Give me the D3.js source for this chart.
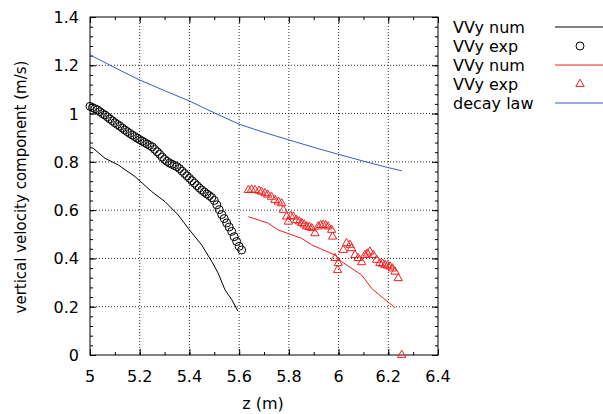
<!DOCTYPE html>
<html>
<head>
<meta charset="utf-8">
<script src="https://cdn.jsdelivr.net/npm/d3@7"></script>
<style>
  body { margin: 0; background: #fff; }
  text { font-family: "DejaVu Sans", sans-serif; }
</style>
</head>
<body>
<div id="chart"></div>
<script>
// numerical run 1 (black line)
var numZ1 = [5.0, 5.013, 5.06, 5.114, 5.181, 5.248, 5.302, 5.355, 5.395, 5.449, 5.49, 5.516, 5.543, 5.57, 5.595];
var numV1 = [0.86, 0.856, 0.815, 0.787, 0.739, 0.677, 0.635, 0.58, 0.525, 0.456, 0.387, 0.338, 0.27, 0.23, 0.182];

// experiment 1 (black circles)
var expZ1 = [5.00, 5.01, 5.02, 5.03, 5.04, 5.05, 5.06, 5.07, 5.08, 5.09, 5.10, 5.11, 5.12, 5.13, 5.14, 5.15,
  5.16, 5.17, 5.18, 5.19, 5.20, 5.21, 5.22, 5.23, 5.24, 5.25, 5.26, 5.27, 5.28, 5.29, 5.30, 5.31, 5.32,
  5.33, 5.34, 5.35, 5.36, 5.37, 5.38, 5.39, 5.40, 5.41, 5.42, 5.43, 5.44, 5.45, 5.46, 5.47, 5.48, 5.49,
  5.50, 5.51, 5.52, 5.53, 5.54, 5.55, 5.56, 5.57, 5.58, 5.59, 5.60, 5.61];
var expV1 = [1.03, 1.025, 1.02, 1.015, 1.008, 1.0, 0.994, 0.986, 0.978, 0.97, 0.962, 0.955, 0.948, 0.94, 0.932, 0.925,
  0.918, 0.911, 0.905, 0.898, 0.892, 0.886, 0.88, 0.874, 0.868, 0.862, 0.852, 0.842, 0.832, 0.82, 0.81, 0.802, 0.795,
  0.79, 0.785, 0.78, 0.772, 0.762, 0.752, 0.742, 0.732, 0.722, 0.712, 0.702, 0.692, 0.683, 0.675, 0.667, 0.66, 0.652,
  0.64, 0.622, 0.602, 0.582, 0.565, 0.547, 0.53, 0.512, 0.49, 0.47, 0.45, 0.435];

// numerical run 2 (red line)
var numZ2 = [5.637, 5.717, 5.757, 5.852, 5.892, 5.986, 6.012, 6.093, 6.133, 6.18, 6.227];
var numV2 = [0.573, 0.546, 0.518, 0.483, 0.456, 0.414, 0.387, 0.331, 0.276, 0.235, 0.196];

// experiment 2 (red triangles)
var expZ2 = [5.637, 5.65, 5.664, 5.68, 5.69, 5.704, 5.715, 5.73, 5.744, 5.758, 5.771, 5.778, 5.791, 5.798, 5.808,
  5.818, 5.831, 5.842, 5.852, 5.862, 5.872, 5.882, 5.892, 5.905, 5.918, 5.928, 5.938, 5.948, 5.958, 5.972, 5.976,
  5.986, 5.999, 5.996, 6.019, 6.032, 6.046, 6.052, 6.066, 6.079, 6.093, 6.106, 6.116, 6.126, 6.14, 6.153, 6.166,
  6.177, 6.187, 6.197, 6.207, 6.217, 6.227, 6.24, 6.254];
var expV2 = [0.683, 0.685, 0.683, 0.68, 0.676, 0.67, 0.664, 0.655, 0.642, 0.635, 0.628, 0.601, 0.573, 0.552, 0.575,
  0.573, 0.559, 0.553, 0.546, 0.54, 0.532, 0.53, 0.525, 0.504, 0.532, 0.538, 0.539, 0.537, 0.532, 0.518, 0.49,
  0.401, 0.38, 0.352, 0.435, 0.463, 0.456, 0.442, 0.414, 0.401, 0.384, 0.414, 0.42, 0.428, 0.414, 0.394, 0.38,
  0.378, 0.373, 0.37, 0.366, 0.358, 0.345, 0.318, 0.0];

// decay law (blue line)
var decayZ = [5.0, 5.1, 5.2, 5.3, 5.4, 5.5, 5.6, 5.7, 5.8, 5.9, 6.0, 6.1, 6.2, 6.254];
var decayV = [1.243, 1.19, 1.139, 1.095, 1.052, 1.003, 0.956, 0.922, 0.891, 0.86, 0.831, 0.803, 0.776, 0.763];

var xTicks = [5, 5.2, 5.4, 5.6, 5.8, 6, 6.2, 6.4];
var yTicks = [0, 0.2, 0.4, 0.6, 0.8, 1, 1.2, 1.4];
var legendLabels = ["VVy num", "VVy exp", "VVy num", "VVy exp", "decay law"];

var W = 603, H = 414;
var pL = 90, pR = 438, pT = 17, pB = 355;
var black = "#000", red = "#f02020", blue = "#3a5cc0";

var svg = d3.select("#chart").append("svg").attr("width", W).attr("height", H);

var x = d3.scaleLinear().domain([5, 6.4]).range([pL, pR]);
var y = d3.scaleLinear().domain([0, 1.4]).range([pB, pT]);

// grid
var grid = svg.append("g");
grid.selectAll("line.gx").data(xTicks.slice(1, -1)).enter().append("line")
  .attr("x1", d => x(d)).attr("x2", d => x(d)).attr("y1", pT).attr("y2", pB)
  .attr("stroke", "#333").attr("stroke-width", 1).attr("stroke-dasharray", "1,2");
grid.selectAll("line.gy").data(yTicks.slice(1, -1)).enter().append("line")
  .attr("y1", d => y(d)).attr("y2", d => y(d)).attr("x1", pL).attr("x2", pR)
  .attr("stroke", "#333").attr("stroke-width", 1).attr("stroke-dasharray", "1,2");

// axes with inward ticks on all four sides
var xMinor = d3.range(5, 6.41, 0.1);
var yMinor = d3.range(0, 1.401, 0.04);
function ticks(g, axis, vals, size) {
  g.call(axis.tickValues(vals).tickSize(size).tickFormat(""));
  g.select(".domain").remove();
}
ticks(svg.append("g").attr("transform", "translate(0," + pB + ")"), d3.axisTop(x), xMinor, 3);
ticks(svg.append("g").attr("transform", "translate(0," + pT + ")"), d3.axisBottom(x), xMinor, 3);
ticks(svg.append("g").attr("transform", "translate(" + pL + ",0)"), d3.axisRight(y), yMinor, 3);
ticks(svg.append("g").attr("transform", "translate(" + pR + ",0)"), d3.axisLeft(y), yMinor, 3);
ticks(svg.append("g").attr("transform", "translate(0," + pB + ")"), d3.axisTop(x), xTicks, 6);
ticks(svg.append("g").attr("transform", "translate(0," + pT + ")"), d3.axisBottom(x), xTicks, 6);
ticks(svg.append("g").attr("transform", "translate(" + pL + ",0)"), d3.axisRight(y), yTicks, 6);
ticks(svg.append("g").attr("transform", "translate(" + pR + ",0)"), d3.axisLeft(y), yTicks, 6);

svg.append("rect").attr("x", pL).attr("y", pT)
  .attr("width", pR - pL).attr("height", pB - pT)
  .attr("fill", "none").attr("stroke", black).attr("stroke-width", 1);

// tick labels
svg.append("g").selectAll("text").data(xTicks).enter().append("text")
  .attr("x", d => x(d)).attr("y", pB + 27)
  .attr("text-anchor", "middle").attr("font-size", 16)
  .text(d => d3.format("~g")(d));
svg.append("g").selectAll("text").data(yTicks).enter().append("text")
  .attr("x", pL - 11).attr("y", d => y(d) + 6)
  .attr("text-anchor", "end").attr("font-size", 16)
  .text(d => d3.format("~g")(d));

svg.append("text").attr("x", (pL + pR) / 2 - 1).attr("y", 409)
  .attr("text-anchor", "middle").attr("font-size", 16).text("z (m)");
svg.append("text").attr("transform", "translate(26," + ((pT + pB) / 2 + 1) + ")rotate(-90)")
  .attr("text-anchor", "middle").attr("font-size", 15).text("vertical velocity component (m/s)");

// series
var line = d3.line().x(d => x(d[0])).y(d => y(d[1]));
var plot = svg.append("g");

plot.append("path").datum(decayZ.map((z, i) => [z, decayV[i]]))
  .attr("d", line).attr("fill", "none").attr("stroke", blue).attr("stroke-width", 1);
plot.append("path").datum(numZ1.map((z, i) => [z, numV1[i]]))
  .attr("d", line).attr("fill", "none").attr("stroke", black).attr("stroke-width", 1);
plot.append("path").datum(numZ2.map((z, i) => [z, numV2[i]]))
  .attr("d", line).attr("fill", "none").attr("stroke", red).attr("stroke-width", 1);

plot.selectAll("circle.exp1").data(expZ1.map((z, i) => [z, expV1[i]])).enter().append("circle")
  .attr("cx", d => x(d[0])).attr("cy", d => y(d[1])).attr("r", 4)
  .attr("fill", "none").attr("stroke", black).attr("stroke-width", 1);

var tri = d3.symbol().type(d3.symbolTriangle).size(30);
plot.selectAll("path.exp2").data(expZ2.map((z, i) => [z, expV2[i]])).enter().append("path")
  .attr("d", tri).attr("transform", d => "translate(" + x(d[0]) + "," + y(d[1]) + ")")
  .attr("fill", "none").attr("stroke", red).attr("stroke-width", 1);

// legend
var legend = svg.append("g");
legendLabels.forEach(function (lab, i) {
  var ly = 27 + i * 19;
  legend.append("text").attr("x", 453).attr("y", ly + 6).attr("font-size", 16).text(lab);
  if (i === 0 || i === 2 || i === 4) {
    legend.append("line").attr("x1", 555).attr("x2", 603).attr("y1", ly).attr("y2", ly)
      .attr("stroke", i === 0 ? black : (i === 2 ? red : blue)).attr("stroke-width", 1);
  } else if (i === 1) {
    legend.append("circle").attr("cx", 580).attr("cy", ly).attr("r", 4)
      .attr("fill", "none").attr("stroke", black);
  } else {
    legend.append("path").attr("d", tri).attr("transform", "translate(580," + ly + ")")
      .attr("fill", "none").attr("stroke", red);
  }
});
</script>
</body>
</html>
